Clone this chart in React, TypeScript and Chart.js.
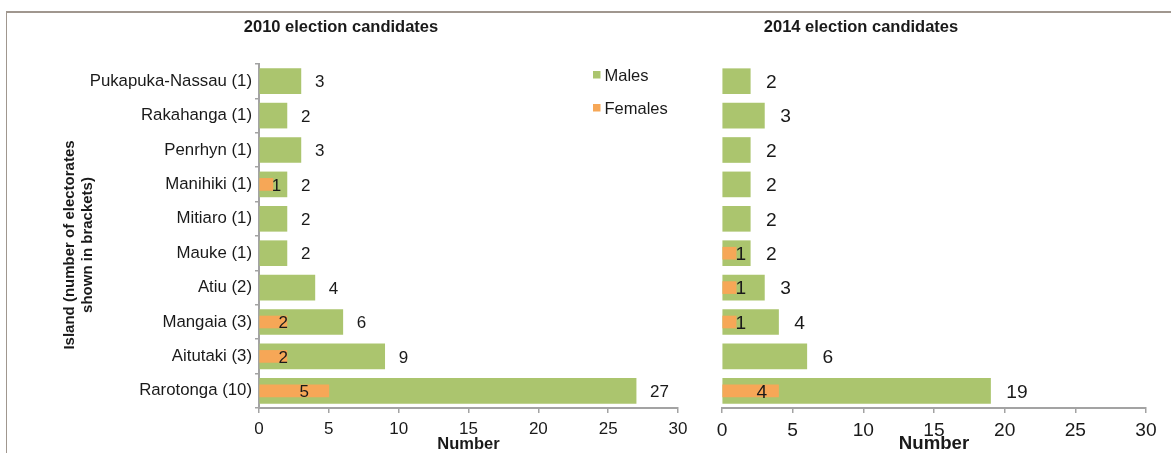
import React, { useEffect, useRef } from 'react';
import { Chart, registerables } from 'chart.js';

Chart.register(...registerables);

// ---------- data ----------
const islands = [
  'Pukapuka-Nassau (1)',
  'Rakahanga (1)',
  'Penrhyn (1)',
  'Manihiki (1)',
  'Mitiaro (1)',
  'Mauke (1)',
  'Atiu (2)',
  'Mangaia (3)',
  'Aitutaki (3)',
  'Rarotonga (10)',
];
const males2010: (number | null)[] = [3, 2, 3, 2, 2, 2, 4, 6, 9, 27];
const females2010: (number | null)[] = [null, null, null, 1, null, null, null, 2, 2, 5];
const males2014: (number | null)[] = [2, 3, 2, 2, 2, 2, 3, 4, 6, 19];
const females2014: (number | null)[] = [null, null, null, null, null, 1, 1, 1, null, 4];

const xTicks = [0, 5, 10, 15, 20, 25, 30];
const seriesNames = ['Males', 'Females'];
const panelTitles = ['2010 election candidates', '2014 election candidates'];
const xAxisTitle = 'Number';
const yAxisTitle = ['Island (number of electorates', 'shown in brackets)'];

// ---------- styles ----------
const GREEN = '#abc56e';
const ORANGE = '#f6a757';
const AXIS = '#a3a3a3';
const TEXT = '#1a1a1a';
const FONT = '"Liberation Sans", Arial, Helvetica, sans-serif';
const W = 1171;
const H = 453;

type PanelOpts = {
  males: (number | null)[];
  females: (number | null)[];
  showY: boolean;
  title: string;
  titleX: number; // in canvas coords
  fs: number; // font scale
  padding: { left: number; right: number; top: number; bottom: number };
  legend: boolean;
  yWidth: number;
};

function makeDecor(o: PanelOpts) {
  return {
    id: 'decor',
    afterDatasetsDraw(chart: any) {
      const ctx = chart.ctx as CanvasRenderingContext2D;
      ctx.save();
      // panel title
      ctx.fillStyle = TEXT;
      ctx.font = `bold 16.5px ${FONT}`;
      ctx.textAlign = 'center';
      ctx.textBaseline = 'middle';
      ctx.fillText(o.title, o.titleX, 27);

      // y axis title (rotated, two lines)
      if (o.showY) {
        ctx.save();
        ctx.translate(70, 245);
        ctx.rotate(-Math.PI / 2);
        ctx.font = `bold 15px ${FONT}`;
        ctx.textAlign = 'center';
        ctx.textBaseline = 'middle';
        yAxisTitle.forEach((line, i) => ctx.fillText(line, 0, i * 18));
        ctx.restore();
      }

      // legend
      if (o.legend) {
        const colors = [GREEN, ORANGE];
        ctx.font = `16.5px ${FONT}`;
        ctx.textAlign = 'left';
        ctx.textBaseline = 'middle';
        seriesNames.forEach((name, i) => {
          const cy = 75 + i * 33;
          ctx.fillStyle = colors[i];
          ctx.fillRect(593, cy - 4, 7.5, 7.5);
          ctx.fillStyle = TEXT;
          ctx.fillText(name, 604.5, cy + 1.5);
        });
      }

      // data labels
      const fsz = 17 * o.fs;
      ctx.font = `${fsz}px ${FONT}`;
      ctx.fillStyle = TEXT;
      ctx.textBaseline = 'middle';
      const maleMeta = chart.getDatasetMeta(1);
      maleMeta.data.forEach((el: any, i: number) => {
        const v = o.males[i];
        if (v == null) return;
        ctx.textAlign = 'left';
        ctx.fillText(String(v), el.x + 14 * o.fs, el.y + 1.5);
      });
      const femMeta = chart.getDatasetMeta(0);
      femMeta.data.forEach((el: any, i: number) => {
        const v = o.females[i];
        if (v == null) return;
        ctx.textAlign = 'center';
        ctx.fillText(String(v), (el.x + el.base) / 2 + 10 * o.fs, el.y + 1.5);
      });
      ctx.restore();
    },
  };
}

function makeConfig(o: PanelOpts): any {
  return {
    type: 'bar',
    data: {
      labels: islands,
      datasets: [
        {
          label: seriesNames[1],
          data: o.females,
          backgroundColor: ORANGE,
          barThickness: 12,
          grouped: false,
        },
        {
          label: seriesNames[0],
          data: o.males,
          backgroundColor: GREEN,
          barThickness: 25,
          grouped: false,
        },
      ],
    },
    options: {
      indexAxis: 'y',
      responsive: false,
      animation: false,
      layout: { padding: o.padding },
      plugins: {
        legend: { display: false },
        tooltip: { enabled: false },
        title: { display: false },
      },
      scales: {
        x: {
          type: 'linear',
          min: xTicks[0],
          max: xTicks[xTicks.length - 1],
          afterBuildTicks: (scale: any) => {
            scale.ticks = xTicks.map((v) => ({ value: v }));
          },
          afterFit: (scale: any) => {
            scale.height = 45;
          },
          grid: {
            display: true,
            drawOnChartArea: false,
            drawTicks: true,
            tickLength: 5,
            color: AXIS,
            lineWidth: 1.5,
          },
          border: { display: true, color: AXIS, width: 2 },
          ticks: {
            color: TEXT,
            padding: 6,
            font: { family: FONT, size: 17 * o.fs },
            maxRotation: 0,
          },
          title: {
            display: true,
            text: xAxisTitle,
            color: TEXT,
            font: { family: FONT, size: 16.5 * o.fs, weight: 'bold', lineHeight: 1 },
            padding: { top: 0, bottom: 0 },
          },
        },
        y: {
          type: 'category',
          display: o.showY,
          afterFit: (scale: any) => {
            scale.width = o.yWidth;
          },
          grid: {
            display: true,
            drawOnChartArea: false,
            drawTicks: true,
            tickLength: 4,
            color: AXIS,
            lineWidth: 1.5,
            offset: true,
          },
          border: { display: true, color: AXIS, width: 2 },
          ticks: {
            color: TEXT,
            padding: 3,
            font: { family: FONT, size: 16.8 },
            autoSkip: false,
          },
        },
      },
    },
    plugins: [makeDecor(o)],
  };
}

export default function App() {
  const leftRef = useRef<HTMLCanvasElement | null>(null);
  const rightRef = useRef<HTMLCanvasElement | null>(null);

  useEffect(() => {
    const left = new Chart(
      leftRef.current as HTMLCanvasElement,
      makeConfig({
        males: males2010,
        females: females2010,
        showY: true,
        title: panelTitles[0],
        titleX: 341,
        fs: 1,
        padding: { left: 0, right: 22, top: 64, bottom: 0 },
        legend: true,
        yWidth: 259,
      })
    );
    const right = new Chart(
      rightRef.current as HTMLCanvasElement,
      makeConfig({
        males: males2014,
        females: females2014,
        showY: false,
        title: panelTitles[1],
        titleX: 161,
        fs: 1.13,
        padding: { left: 22, right: 25, top: 64, bottom: 0 },
        legend: false,
        yWidth: 0,
      })
    );
    return () => {
      left.destroy();
      right.destroy();
    };
  }, []);

  return (
    <div
      style={{
        position: 'fixed',
        left: 0,
        top: 0,
        width: W,
        height: H,
        background: '#ffffff',
        overflow: 'hidden',
      }}
    >
      <div
        style={{
          position: 'absolute',
          left: 6,
          top: 11,
          width: 1300,
          height: 600,
          borderTop: '2px solid #a0978f',
          borderLeft: '1.5px solid #a0978f',
        }}
      />
      <canvas
        ref={leftRef}
        width={700}
        height={H}
        style={{ position: 'absolute', left: 0, top: 0 }}
      />
      <canvas
        ref={rightRef}
        width={471}
        height={H}
        style={{ position: 'absolute', left: 700, top: 0 }}
      />
    </div>
  );
}
